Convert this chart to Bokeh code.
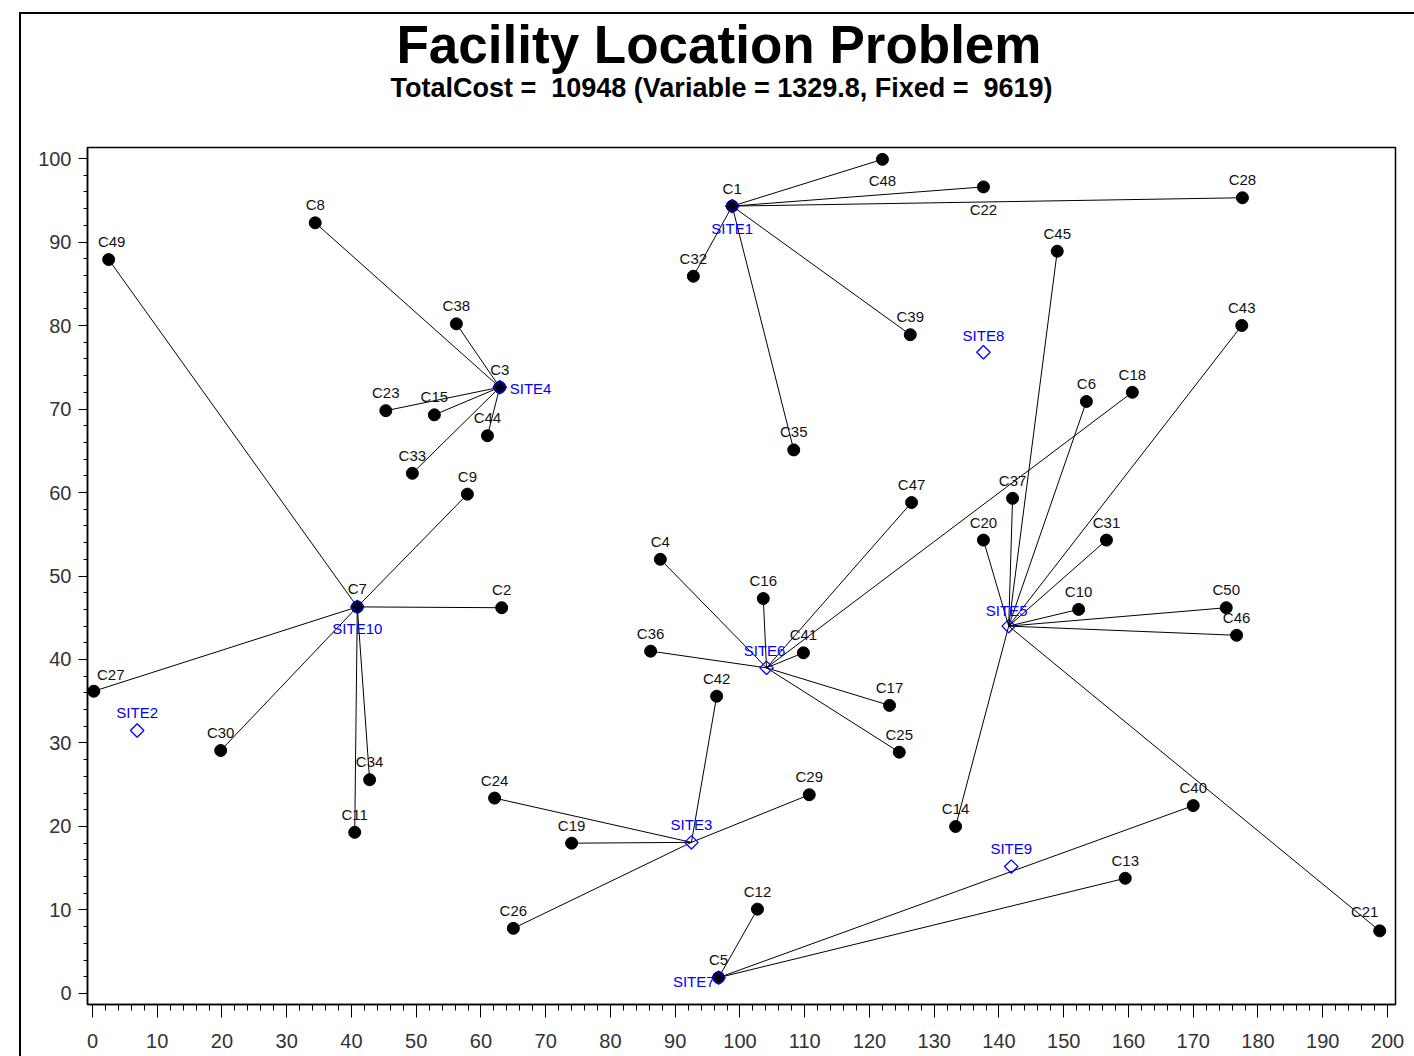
import numpy as np
from bokeh.plotting import figure
from bokeh.models import Title, ColumnDataSource, FixedTicker
from bokeh.embed import file_html
from bokeh.resources import INLINE

# ---- candidate facility sites ----
site_names = ["SITE1", "SITE2", "SITE3", "SITE4", "SITE5",
              "SITE6", "SITE7", "SITE8", "SITE9", "SITE10"]
site_x = [98.8, 6.9, 92.5, 62.9, 141.5, 104.1, 96.7, 137.6, 141.9, 40.9]
site_y = [94.3, 31.5, 18.1, 72.6, 44.0, 39.0, 1.9, 76.8, 15.2, 46.3]

# ---- customers and the site each one is served from ----
cust_names = ["C%d" % i for i in range(1, 51)]
cust_x = [98.8, 63.2, 62.9, 87.7, 96.7, 153.5, 40.9, 34.4, 57.9, 152.3,
          40.5, 102.7, 159.5, 133.3, 52.8, 103.6, 123.1, 160.6, 74.0, 137.6,
          198.8, 137.6, 45.3, 62.1, 124.6, 65.0, 0.2, 177.6, 110.7, 19.8,
          156.6, 92.8, 49.4, 42.8, 108.3, 86.2, 142.1, 56.2, 126.3, 170.0,
          109.8, 96.4, 177.5, 61.0, 149.0, 176.7, 126.5, 122.0, 2.5, 175.1]
cust_y = [94.3, 46.2, 72.6, 52.0, 1.9, 70.9, 46.3, 92.3, 59.8, 46.0,
          19.3, 10.1, 13.8, 20.0, 69.3, 47.3, 34.5, 72.0, 18.0, 54.3,
          7.5, 96.6, 69.8, 23.4, 28.9, 7.8, 36.2, 95.3, 23.8, 29.1,
          54.3, 85.9, 62.3, 25.6, 65.1, 41.0, 59.3, 80.2, 78.9, 22.5,
          40.8, 35.6, 80.0, 66.8, 88.9, 42.9, 58.8, 99.9, 87.9, 46.2]
cust_site = ["SITE1", "SITE10", "SITE4", "SITE6", "SITE7", "SITE5", "SITE10", "SITE4", "SITE10", "SITE5",
             "SITE10", "SITE7", "SITE7", "SITE5", "SITE4", "SITE6", "SITE6", "SITE6", "SITE3", "SITE5",
             "SITE5", "SITE1", "SITE4", "SITE3", "SITE6", "SITE3", "SITE10", "SITE1", "SITE3", "SITE10",
             "SITE5", "SITE1", "SITE4", "SITE10", "SITE1", "SITE6", "SITE5", "SITE4", "SITE1", "SITE7",
             "SITE6", "SITE3", "SITE5", "SITE4", "SITE5", "SITE5", "SITE6", "SITE1", "SITE10", "SITE5"]

title_text = "Facility Location Problem"
subtitle_text = "TotalCost =\u00a0 10948 (Variable = 1329.8, Fixed =\u00a0 9619)"
x_ticks = list(range(0, 201, 10))
y_ticks = list(range(0, 101, 10))

# ---- label placement (pixel offsets) ----
cust_label_nudge = {"C48": (0, 21), "C22": (0, 23), "C27": (17, -17), "C21": (-15, -19),
                    "C49": (3, -18)}
site_label_place = {
    "SITE1": (0, 22, "center"), "SITE2": (0, -18, "center"), "SITE3": (0, -18, "center"),
    "SITE4": (10, 1, "left"), "SITE5": (-2, -16, "center"), "SITE6": (-2, -17, "center"),
    "SITE7": (-4, 4, "right"), "SITE8": (0, -17, "center"), "SITE9": (0, -18, "center"),
    "SITE10": (0, 22, "center"),
}

site_pos = {n: (x, y) for n, x, y in zip(site_names, site_x, site_y)}

LABEL_FONT = "Liberation Sans"

p = figure(width=1414, height=1056, output_backend="svg", toolbar_location=None,
           x_range=(-0.77, 201.24), y_range=(-1.32, 101.32), title=None,
           min_border_left=87, min_border_right=19, min_border_top=147, min_border_bottom=52)

# page frame: a thin black rule along the top and left of the graph area
p.border_fill_color = None
p.styles = {
    "background-color": "white",
    "background-image": "linear-gradient(#000,#000), linear-gradient(#000,#000)",
    "background-size": "2px 100%, 100% 2px",
    "background-position": "19px 12px, 19px 12px",
    "background-repeat": "no-repeat",
}

# title block: a blank gap above the frame, then the cost line, then the headline
gap = Title(text="\u00a0", text_font_size="1px", standoff=42)
sub = Title(text=subtitle_text, align="left", text_font=LABEL_FONT, text_font_size="27px",
            text_font_style="bold", text_color="#000", offset=303, standoff=0)
main = Title(text=title_text, align="left", text_font=LABEL_FONT, text_font_size="53px",
             text_font_style="bold", text_color="#000", offset=309, standoff=-6)
p.add_layout(gap, "above")
p.add_layout(sub, "above")
p.add_layout(main, "above")

p.grid.visible = False
p.outline_line_color = "#000"
p.outline_line_width = 1.5
p.background_fill_color = "white"

for ax, ticks in ((p.xaxis[0], x_ticks), (p.yaxis[0], y_ticks)):
    ax.ticker = FixedTicker(ticks=ticks, minor_ticks=list(range(-2, 202, 2)))
    ax.axis_line_color = "#000"
    ax.axis_line_width = 1.5
    ax.major_tick_line_color = "#000"
    ax.minor_tick_line_color = "#000"
    ax.major_tick_in = 0
    ax.minor_tick_in = 0
    ax.major_label_text_font = LABEL_FONT
    ax.major_label_text_font_size = "20px"
    ax.major_label_text_color = "#333"
p.xaxis.major_tick_out = 13
p.xaxis.minor_tick_out = 6
p.xaxis.major_label_standoff = 16
p.yaxis.major_tick_out = 9
p.yaxis.minor_tick_out = 4
p.yaxis.major_label_standoff = 7

# assignment lines
x1 = [site_pos[s][0] for s in cust_site]
y1 = [site_pos[s][1] for s in cust_site]
p.segment(x0=cust_x, y0=cust_y, x1=x1, y1=y1, line_color="#000", line_width=1)

# customers
cdx = [cust_label_nudge.get(n, (0, -18))[0] for n in cust_names]
cdy = [cust_label_nudge.get(n, (0, -18))[1] for n in cust_names]
csrc = ColumnDataSource(dict(x=cust_x, y=cust_y, name=cust_names, dx=cdx, dy=cdy))
p.scatter("x", "y", source=csrc, marker="circle", size=12, fill_color="#000", line_color="#000")

# sites
sdx = [site_label_place[n][0] for n in site_names]
sdy = [site_label_place[n][1] for n in site_names]
salign = [site_label_place[n][2] for n in site_names]
ssrc = ColumnDataSource(dict(x=site_x, y=site_y, name=site_names, dx=sdx, dy=sdy, align=salign))
p.scatter("x", "y", source=ssrc, marker="square", angle=np.pi / 4, size=9.5,
          fill_color=None, line_color="blue", line_width=1.3)

p.text("x", "y", text="name", source=csrc, x_offset="dx", y_offset="dy",
       text_align="center", text_baseline="middle", text_font_size="15px",
       text_color="#111", text_font={"value": LABEL_FONT})
p.text("x", "y", text="name", source=ssrc, x_offset="dx", y_offset="dy",
       text_align="align", text_baseline="middle", text_font_size="15px",
       text_color="blue", text_font={"value": LABEL_FONT})

open("out.html", "w").write(file_html(p, INLINE))
